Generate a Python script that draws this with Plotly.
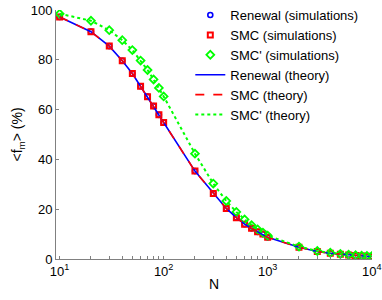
import plotly.graph_objects as go

N = [10, 20, 30, 40, 50, 60, 70, 80, 90, 100,
     200, 300, 400, 500, 600, 700, 800, 900, 1000,
     2000, 3000, 4000, 5000, 6000, 7000, 8000, 9000, 10000]

renewal_sim = [97.2, 91.3, 85.5, 79.6, 74.5, 69.4, 65.2, 61.4, 57.9, 54.8,
               35.3, 26.3, 20.3, 16.6, 14.0, 12.3, 10.9, 10.0, 8.7,
               4.7, 3.0, 2.3, 1.9, 1.6, 1.4, 1.25, 1.1, 1.0]
smc_sim = [97.2, 91.3, 85.5, 79.6, 74.5, 69.4, 65.2, 61.4, 57.9, 54.8,
           35.3, 26.3, 20.3, 16.6, 14.0, 12.3, 10.9, 10.0, 8.7,
           4.7, 3.0, 2.3, 1.9, 1.6, 1.4, 1.25, 1.1, 1.0]
smcp_sim = [98.5, 95.7, 91.9, 87.9, 83.9, 79.7, 75.9, 72.1, 68.7, 65.3,
            42.3, 30.3, 23.3, 18.9, 15.9, 13.6, 11.9, 10.6, 9.4,
            5.0, 3.2, 2.5, 2.0, 1.7, 1.5, 1.35, 1.2, 1.1]

renewal_th = renewal_sim
smc_th = smc_sim
smcp_th = smcp_sim

x_ticks = [10, 20, 30, 40, 50, 60, 70, 80, 90,
           100, 200, 300, 400, 500, 600, 700, 800, 900,
           1000, 2000, 3000, 4000, 5000, 6000, 7000, 8000, 9000, 10000]
x_major = {10: "10<sup>1</sup>", 100: "10<sup>2</sup>", 1000: "10<sup>3</sup>", 10000: "10<sup>4</sup>"}
x_ticktext = [x_major.get(v, "") for v in x_ticks]
y_ticks = [0, 20, 40, 60, 80, 100]

BLUE = "#0000ff"
RED = "#ff0000"
GREEN = "#00ff00"
FONT = "Liberation Sans, Arial, sans-serif"

fig = go.Figure()
fig.add_trace(go.Scatter(x=N, y=renewal_sim, mode="markers", name="Renewal (simulations)",
                         marker=dict(symbol="circle-open", size=5, color=BLUE, line=dict(width=1.6, color=BLUE))))
fig.add_trace(go.Scatter(x=N, y=smc_sim, mode="markers", name="SMC (simulations)",
                         marker=dict(symbol="square-open", size=5, color=RED, line=dict(width=2, color=RED))))
fig.add_trace(go.Scatter(x=N, y=smcp_sim, mode="markers", name="SMC' (simulations)",
                         marker=dict(symbol="diamond-open", size=6, color=GREEN, line=dict(width=1.8, color=GREEN))))
fig.add_trace(go.Scatter(x=N, y=renewal_th, mode="lines", name="Renewal (theory)",
                         line=dict(color=BLUE, width=1.6)))
fig.add_trace(go.Scatter(x=N, y=smc_th, mode="lines", name="SMC (theory)",
                         line=dict(color=RED, width=1.6, dash="dash")))
fig.add_trace(go.Scatter(x=N, y=smcp_th, mode="lines", name="SMC' (theory)",
                         line=dict(color=GREEN, width=2, dash="dot")))

axis_common = dict(showgrid=False, zeroline=False, showline=True, linecolor="#808080",
                   linewidth=1, ticks="inside", tickcolor="#808080", ticklen=3,
                   automargin=False, ticklabeloverflow="allow",
                   tickfont=dict(family=FONT, size=13, color="black"))

fig.update_xaxes(type="log", range=[0.965, 4.003], tickvals=x_ticks, ticktext=x_ticktext,
                 title=dict(text="N", font=dict(family=FONT, size=14, color="black"), standoff=1),
                 **axis_common)
fig.update_yaxes(range=[0, 100], tickvals=y_ticks,
                 title=dict(text="&lt;f<sub>m</sub>&gt; (%)",
                            font=dict(family=FONT, size=14, color="black"), standoff=4),
                 **axis_common)

fig.update_layout(
    width=382, height=300,
    margin=dict(l=56, r=10, t=10, b=41, autoexpand=False),
    plot_bgcolor="white", paper_bgcolor="white",
    font=dict(family=FONT, size=13, color="black"),
    legend=dict(x=0.425, y=1.04, xanchor="left", yanchor="top", bgcolor="rgba(0,0,0,0)",
                font=dict(family=FONT, size=13), tracegroupgap=0, borderwidth=0),
)

# remove the browser's default 8px page margin so the 382x300 figure fills the window exactly
fig.write_html("out.html", config={"displayModeBar": False},
               post_script="document.body.style.margin='0';document.body.style.overflow='hidden';")
